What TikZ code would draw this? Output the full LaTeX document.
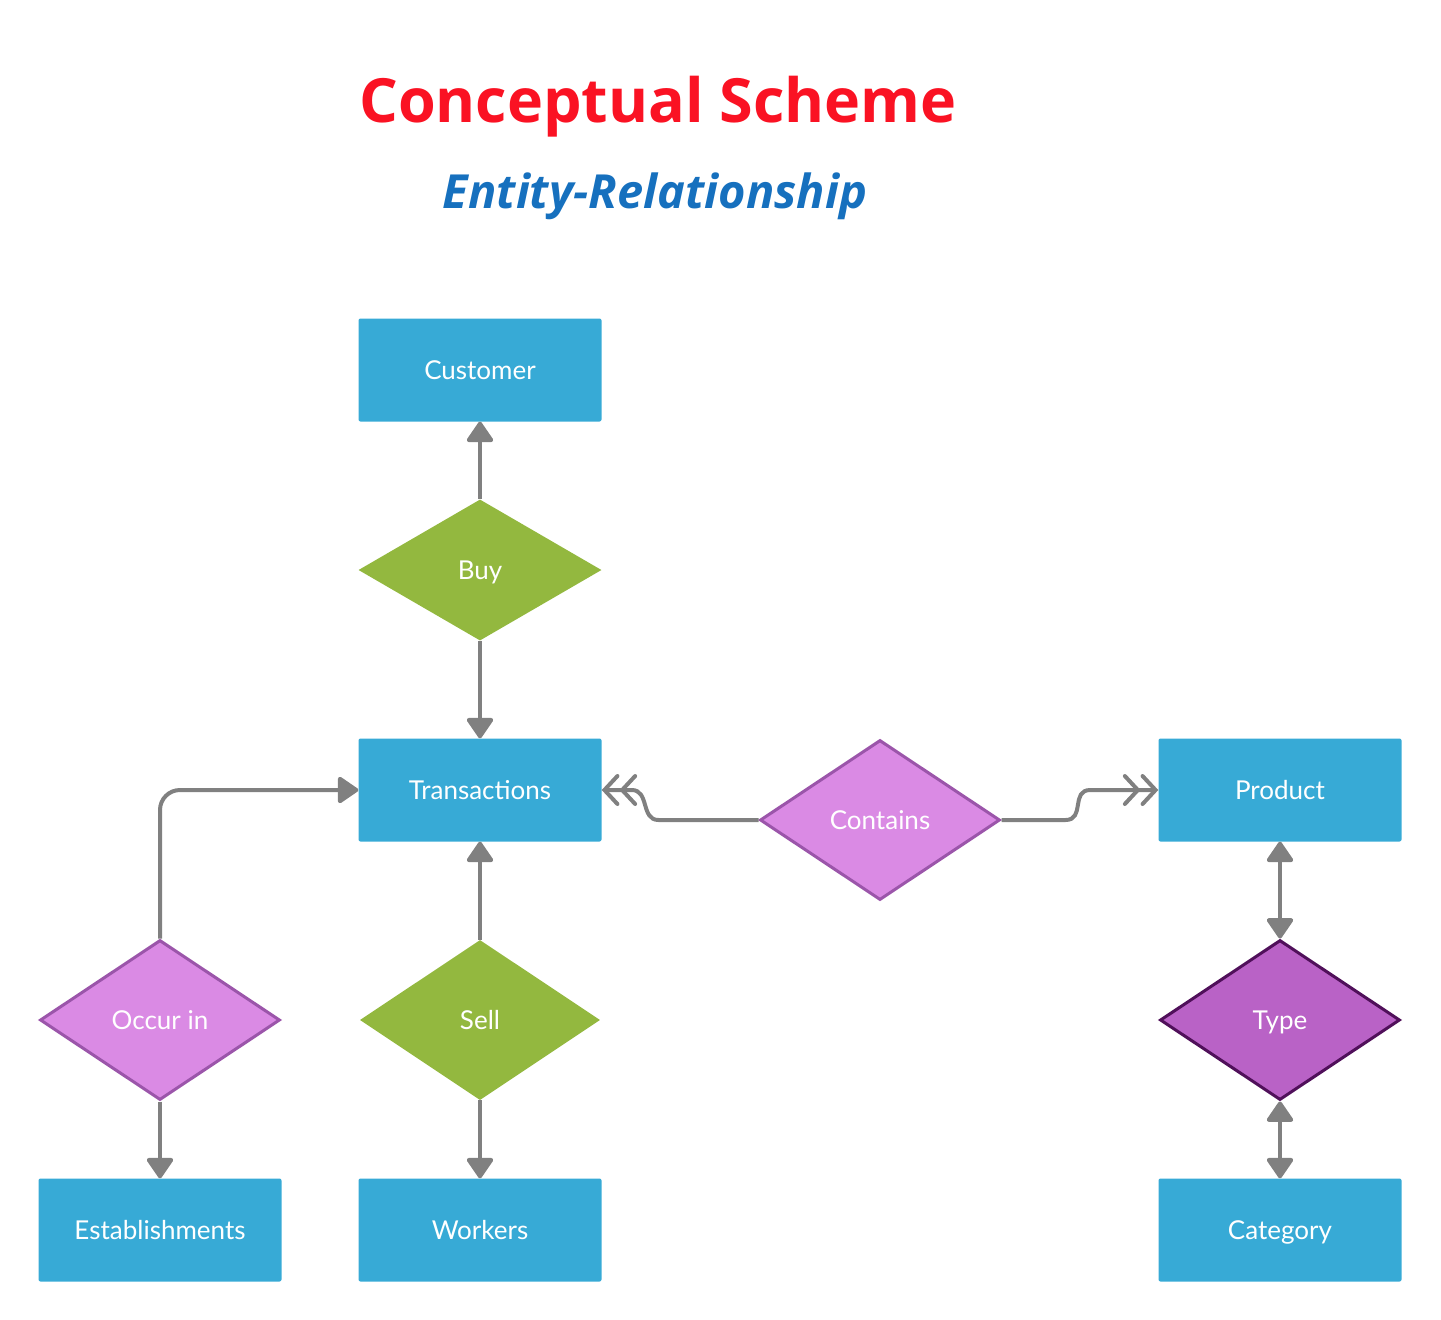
\documentclass[tikz,border=0pt]{standalone}
\usepackage{fontspec}
\setmainfont{Lato}
\newfontfamily\titlefont{Open Sans}
\usetikzlibrary{shapes.geometric,arrows.meta}
\definecolor{entblue}{RGB}{55,170,214}
\definecolor{relgreen}{RGB}{147,184,63}
\definecolor{relpink}{RGB}{218,138,228}
\definecolor{relpinkb}{RGB}{155,85,170}
\definecolor{typefill}{RGB}{185,98,198}
\definecolor{typeborder}{RGB}{80,16,90}
\definecolor{linegray}{RGB}{128,128,128}
\definecolor{titlered}{RGB}{250,18,35}
\definecolor{titleblue}{RGB}{22,112,190}
\tikzset{
  lbl/.style={text=white, font=\fontsize{26}{30}\selectfont, text height=18.5pt, text depth=0pt},
  entity/.style={rectangle, rounded corners=2pt, fill=entblue, minimum width=243pt, minimum height=103pt, inner sep=0pt, lbl},
  rel/.style={diamond, aspect=1.5, minimum width=240pt, minimum height=160pt, inner sep=0pt, lbl},
  greenrel/.style={rel, fill=relgreen},
  pinkrel/.style={rel, fill=relpink, draw=relpinkb, line width=3pt},
  typerel/.style={rel, fill=typefill, draw=typeborder, line width=3pt},
  conn/.style={draw=linegray, line width=4pt},
  arr/.style={conn, -{Triangle[length=22pt,width=29pt,round]}, color=linegray},
  darr/.style={conn, {Triangle[length=22pt,width=29pt,round]}-{Triangle[length=22pt,width=29pt,round]}, color=linegray},
  barb/.style={conn, color=linegray, -{Straight Barb[length=13pt,width=28pt,line cap=round]Straight Barb[length=13pt,width=28pt,line cap=round]}}
}
\begin{document}
\begin{tikzpicture}[x=1pt,y=-1pt]
\useasboundingbox (0,0) rectangle (1441,1320);
\node[text=titlered, font=\titlefont\bfseries\fontsize{61}{66}\selectfont] (title) at (658,107) {Conceptual Scheme};
\node[text=titleblue, font=\titlefont\bfseries\itshape\fontsize{47}{52}\selectfont] (subtitle) at (655,196) {Entity-Relationship};

\node[entity] (customer) at (480,370) {Customer};
\node[greenrel, minimum height=141pt, minimum width=243pt, aspect=1.72] (buy) at (480,570) {Buy};
\node[entity] (trans) at (480,790) {Transactions};
\node[pinkrel] (contains) at (880,820) {Contains};
\node[entity] (product) at (1280,790) {Product};
\node[pinkrel] (occur) at (160,1020) {Occur in};
\node[greenrel] (sell) at (480,1020) {Sell};
\node[typerel] (type) at (1280,1020) {Type};
\node[entity] (estab) at (160,1230) {Establishments};
\node[entity] (workers) at (480,1230) {Workers};
\node[entity] (category) at (1280,1230) {Category};

\draw[arr] (buy.north) -- (customer.south);
\draw[arr] (buy.south) -- (trans.north);
\draw[arr] (sell.north) -- (trans.south);
\draw[arr] (sell.south) -- (workers.north);
\draw[arr] (occur.south) -- (estab.north);
\draw[arr, rounded corners=20pt] (occur.north) |- (trans.west);
\draw[darr] (type.north) -- (product.south);
\draw[darr] (type.south) -- (category.north);
\draw[barb] (contains.west) -- ([xshift=-100pt]contains.west) .. controls ([xshift=-118pt]contains.west) and ([xshift=48pt]trans.east) .. ([xshift=30pt]trans.east) -- (trans.east);
\draw[barb] (contains.east) -- ([xshift=64pt]contains.east) .. controls ([xshift=84pt]contains.east) and ([xshift=-88pt]product.west) .. ([xshift=-68pt]product.west) -- (product.west);
\end{tikzpicture}
\end{document}
